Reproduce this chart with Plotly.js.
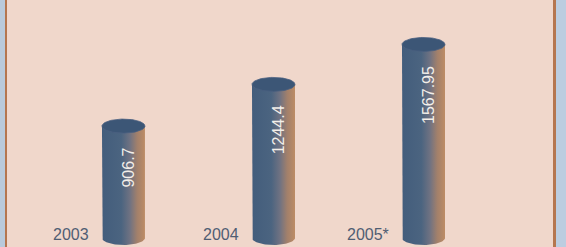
<!DOCTYPE html>
<html>
<head>
<meta charset="utf-8">
<script src="https://cdn.plot.ly/plotly-3.0.1.min.js"></script>
<style>html,body{margin:0;padding:0;background:#f0d7cb;}#chart{width:566px;height:247px;}</style>
</head>
<body>
<div id="chart"></div>
<script>
// ---- data ----
const categories = ['2003', '2004', '2005*'];
const values = [906.7, 1244.4, 1567.95];
const valueLabels = ['906.7', '1244.4', '1567.95'];

// ---- styling ----
const W = 566, H = 247;
const xRange = [-0.823, 2.95];
const yRange = [-73, 1928];
const pxPerX = W / (xRange[1] - xRange[0]);
const pxPerY = H / (yRange[1] - yRange[0]);
const halfW = 21.5 / pxPerX;     // cylinder half width (x units)
const capH = 7 / pxPerY;         // ellipse half height (y units)
const N = 48;

const traces = [];
values.forEach((v, i) => {
  const c = i;
  // body
  const bx = [c - halfW], by = [v];
  for (let k = 0; k <= N; k++) {
    const th = Math.PI + Math.PI * k / N;
    bx.push(c + halfW * Math.cos(th));
    by.push(capH * Math.sin(th));
  }
  bx.push(c + halfW, c - halfW);
  by.push(v, v);
  traces.push({
    type: 'scatter', mode: 'lines', x: bx, y: by, fill: 'toself',
    line: {width: 0}, hoverinfo: 'skip', showlegend: false,
    fillgradient: {
      type: 'horizontal', start: c - halfW, stop: c + halfW,
      colorscale: [[0, '#435d7c'], [0.45, '#4b6480'], [0.65, '#6f7282'], [0.82, '#a2806b'], [1, '#bd8c65']]
    }
  });
  // cap
  const cx = [], cy = [];
  for (let k = 0; k <= N * 2; k++) {
    const th = 2 * Math.PI * k / (N * 2);
    cx.push(c + halfW * Math.cos(th));
    cy.push(v + capH * Math.sin(th));
  }
  traces.push({
    type: 'scatter', mode: 'lines', x: cx, y: cy, fill: 'toself',
    fillcolor: '#3c5676', line: {width: 0.8, color: '#4a6080'},
    hoverinfo: 'skip', showlegend: false
  });
});

const annotations = [];
values.forEach((v, i) => {
  annotations.push({
    x: i, y: v, xref: 'x', yref: 'y', text: valueLabels[i], showarrow: false,
    textangle: -90, xanchor: 'center', yanchor: 'top', yshift: -19, xshift: 5,
    font: {family: 'Liberation Sans, Arial, sans-serif', size: 16, color: '#f3eee9'}
  });
  annotations.push({
    x: i, y: 0, xref: 'x', yref: 'y', text: categories[i], showarrow: false,
    xanchor: 'right', yanchor: 'middle', xshift: -32, yshift: 3,
    font: {family: 'Liberation Sans, Arial, sans-serif', size: 16, color: '#4f5d73'}
  });
});

const shapes = [
  {type: 'rect', xref: 'paper', yref: 'paper', x0: 0, x1: 5 / W, y0: 0, y1: 1, fillcolor: '#b9cadb', line: {width: 0}, layer: 'below'},
  {type: 'rect', xref: 'paper', yref: 'paper', x0: 5 / W, x1: 7 / W, y0: 0, y1: 1, fillcolor: '#b5764f', line: {width: 0}, layer: 'below'},
  {type: 'rect', xref: 'paper', yref: 'paper', x0: 553 / W, x1: 556 / W, y0: 0, y1: 1, fillcolor: '#b5764f', line: {width: 0}, layer: 'below'},
  {type: 'rect', xref: 'paper', yref: 'paper', x0: 556 / W, x1: 1, y0: 0, y1: 1, fillcolor: '#bccde0', line: {width: 0}, layer: 'below'}
];

const layout = {
  width: W, height: H,
  margin: {l: 0, r: 0, t: 0, b: 0, pad: 0},
  paper_bgcolor: '#f0d7cb', plot_bgcolor: '#f0d7cb',
  xaxis: {range: xRange, visible: false, fixedrange: true},
  yaxis: {range: yRange, visible: false, fixedrange: true},
  showlegend: false,
  annotations: annotations,
  shapes: shapes
};

Plotly.newPlot('chart', traces, layout, {staticPlot: true, displayModeBar: false});
</script>
</body>
</html>
